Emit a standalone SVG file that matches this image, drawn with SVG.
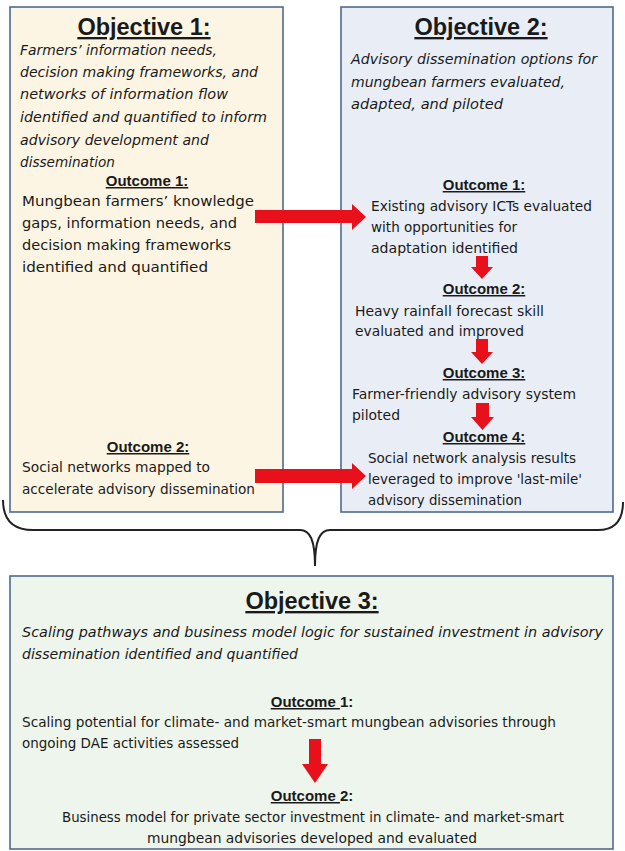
<svg xmlns="http://www.w3.org/2000/svg" width="625" height="851" viewBox="0 0 625 851">
  <style>
    .box { stroke: #4e6a91; stroke-width: 1.6; }
    .title { font-family: "Liberation Sans", Arial, sans-serif; font-weight: bold; font-size: 23.5px; fill: #1a1a1a; text-anchor: middle; text-decoration: underline; }
    .obj { font-family: "DejaVu Sans", sans-serif; font-style: italic; font-size: 14.4px; fill: #1a1a1a; }
    .oc { font-family: "Liberation Sans", Arial, sans-serif; font-weight: bold; font-size: 15px; fill: #1a1a1a; text-anchor: middle; }
    .ul { text-decoration: underline; }
    .body { font-family: "DejaVu Sans", sans-serif; font-size: 14.6px; fill: #1a1a1a; }
    .mid { text-anchor: middle; }
    .arrow { fill: #e8101a; }
    .brace { fill: none; stroke: #222; stroke-width: 2; }
  </style>

  <!-- Objective 1 -->
  <g id="objective1">
    <rect class="box" x="10" y="7" width="273" height="505" fill="#fdf5e3"/>
    <text class="title" x="144" y="35">Objective 1:</text>
    <text class="obj" x="20" y="55" textLength="197" lengthAdjust="spacingAndGlyphs">Farmers’ information needs,</text>
    <text class="obj" x="20" y="77" textLength="238" lengthAdjust="spacingAndGlyphs">decision making frameworks, and</text>
    <text class="obj" x="20" y="99" textLength="208" lengthAdjust="spacingAndGlyphs">networks of information flow</text>
    <text class="obj" x="20" y="122" textLength="247" lengthAdjust="spacingAndGlyphs">identified and quantified to inform</text>
    <text class="obj" x="20" y="145" textLength="189" lengthAdjust="spacingAndGlyphs">advisory development and</text>
    <text class="obj" x="20" y="167" textLength="95" lengthAdjust="spacingAndGlyphs">dissemination</text>
  </g>
  <g id="obj1-outcome1">
    <text class="oc ul" x="147" y="186">Outcome 1:</text>
    <text class="body" x="22" y="206" textLength="232" lengthAdjust="spacingAndGlyphs">Mungbean farmers’ knowledge</text>
    <text class="body" x="22" y="228" textLength="215" lengthAdjust="spacingAndGlyphs">gaps, information needs, and</text>
    <text class="body" x="22" y="250" textLength="209" lengthAdjust="spacingAndGlyphs">decision making frameworks</text>
    <text class="body" x="22" y="272" textLength="186" lengthAdjust="spacingAndGlyphs">identified and quantified</text>
  </g>
  <g id="obj1-outcome2">
    <text class="oc ul" x="148" y="452">Outcome 2:</text>
    <text class="body" x="22" y="472" textLength="188" lengthAdjust="spacingAndGlyphs">Social networks mapped to</text>
    <text class="body" x="22" y="494" textLength="233" lengthAdjust="spacingAndGlyphs">accelerate advisory dissemination</text>
  </g>

  <!-- Objective 2 -->
  <g id="objective2">
    <rect class="box" x="341" y="7" width="272" height="505" fill="#e9eef6"/>
    <text class="title" x="481" y="35">Objective 2:</text>
    <text class="obj" x="351" y="64" textLength="246" lengthAdjust="spacingAndGlyphs">Advisory dissemination options for</text>
    <text class="obj" x="351" y="87" textLength="214" lengthAdjust="spacingAndGlyphs">mungbean farmers evaluated,</text>
    <text class="obj" x="351" y="109" textLength="152" lengthAdjust="spacingAndGlyphs">adapted, and piloted</text>
  </g>
  <g id="obj2-outcome1">
    <text class="oc ul" x="484" y="190">Outcome 1:</text>
    <text class="body" x="371" y="211" textLength="221" lengthAdjust="spacingAndGlyphs">Existing advisory ICTs evaluated</text>
    <text class="body" x="371" y="232" textLength="146" lengthAdjust="spacingAndGlyphs">with opportunities for</text>
    <text class="body" x="371" y="253" textLength="147" lengthAdjust="spacingAndGlyphs">adaptation identified</text>
  </g>
  <g id="obj2-outcome2">
    <text class="oc ul" x="484" y="294">Outcome 2:</text>
    <text class="body" x="355" y="316" textLength="189" lengthAdjust="spacingAndGlyphs">Heavy rainfall forecast skill</text>
    <text class="body" x="355" y="336" textLength="169" lengthAdjust="spacingAndGlyphs">evaluated and improved</text>
  </g>
  <g id="obj2-outcome3">
    <text class="oc ul" x="484" y="378">Outcome 3:</text>
    <text class="body" x="352" y="399" textLength="224" lengthAdjust="spacingAndGlyphs">Farmer-friendly advisory system</text>
    <text class="body" x="352" y="420" textLength="48" lengthAdjust="spacingAndGlyphs">piloted</text>
  </g>
  <g id="obj2-outcome4">
    <text class="oc ul" x="484" y="442">Outcome 4:</text>
    <text class="body" x="368" y="463" textLength="208" lengthAdjust="spacingAndGlyphs">Social network analysis results</text>
    <text class="body" x="368" y="484" textLength="214" lengthAdjust="spacingAndGlyphs">leveraged to improve 'last-mile'</text>
    <text class="body" x="368" y="505" textLength="154" lengthAdjust="spacingAndGlyphs">advisory dissemination</text>
  </g>

  <!-- Objective 3 -->
  <g id="objective3">
    <rect class="box" x="10" y="576" width="603" height="273" fill="#eef5ec"/>
    <text class="title" x="312" y="609">Objective 3:</text>
    <text class="obj" x="22" y="637" textLength="581" lengthAdjust="spacing">Scaling pathways and business model logic for sustained investment in advisory</text>
    <text class="obj" x="22" y="659" textLength="276" lengthAdjust="spacingAndGlyphs">dissemination identified and quantified</text>
  </g>
  <g id="obj3-outcome1">
    <text class="oc" x="312" y="707"><tspan class="ul">Outcome </tspan>1:</text>
    <text class="body" x="22" y="727" textLength="534" lengthAdjust="spacingAndGlyphs">Scaling potential for climate- and market-smart mungbean advisories through</text>
    <text class="body" x="22" y="748" textLength="217" lengthAdjust="spacingAndGlyphs">ongoing DAE activities assessed</text>
  </g>
  <g id="obj3-outcome2">
    <text class="oc" x="312" y="801"><tspan class="ul">Outcome </tspan>2:</text>
    <text class="body" x="62" y="822" textLength="502" lengthAdjust="spacingAndGlyphs">Business model for private sector investment in climate- and market-smart</text>
    <text class="body" x="147" y="843" textLength="330" lengthAdjust="spacingAndGlyphs">mungbean advisories developed and evaluated</text>
  </g>

  <!-- Connectors -->
  <g id="connectors">
    <polygon class="arrow" points="255,210 352,210 352,204 366,217 352,230 352,223 255,223"/>
    <polygon class="arrow" points="255,469 352,469 352,463 366,476 352,489 352,483 255,483"/>
    <polygon class="arrow" points="476,256 488,256 488,267 493,267 482,279 471,267 476,267"/>
    <polygon class="arrow" points="476,339 488,339 488,352 493,352 482,364 471,352 476,352"/>
    <polygon class="arrow" points="476,403 489,403 489,417 494,417 482.5,430 471,417 476,417"/>
    <polygon class="arrow" points="309,739 321,739 321,764 328,764 315,783 302,764 309,764"/>
    <path class="brace" d="M3,500 Q3,530 33,530 L300,530 C310,530 315,540 315,566 C315,540 320,530 330,530 L598,530 Q623,530 623,502"/>
  </g>
</svg>
